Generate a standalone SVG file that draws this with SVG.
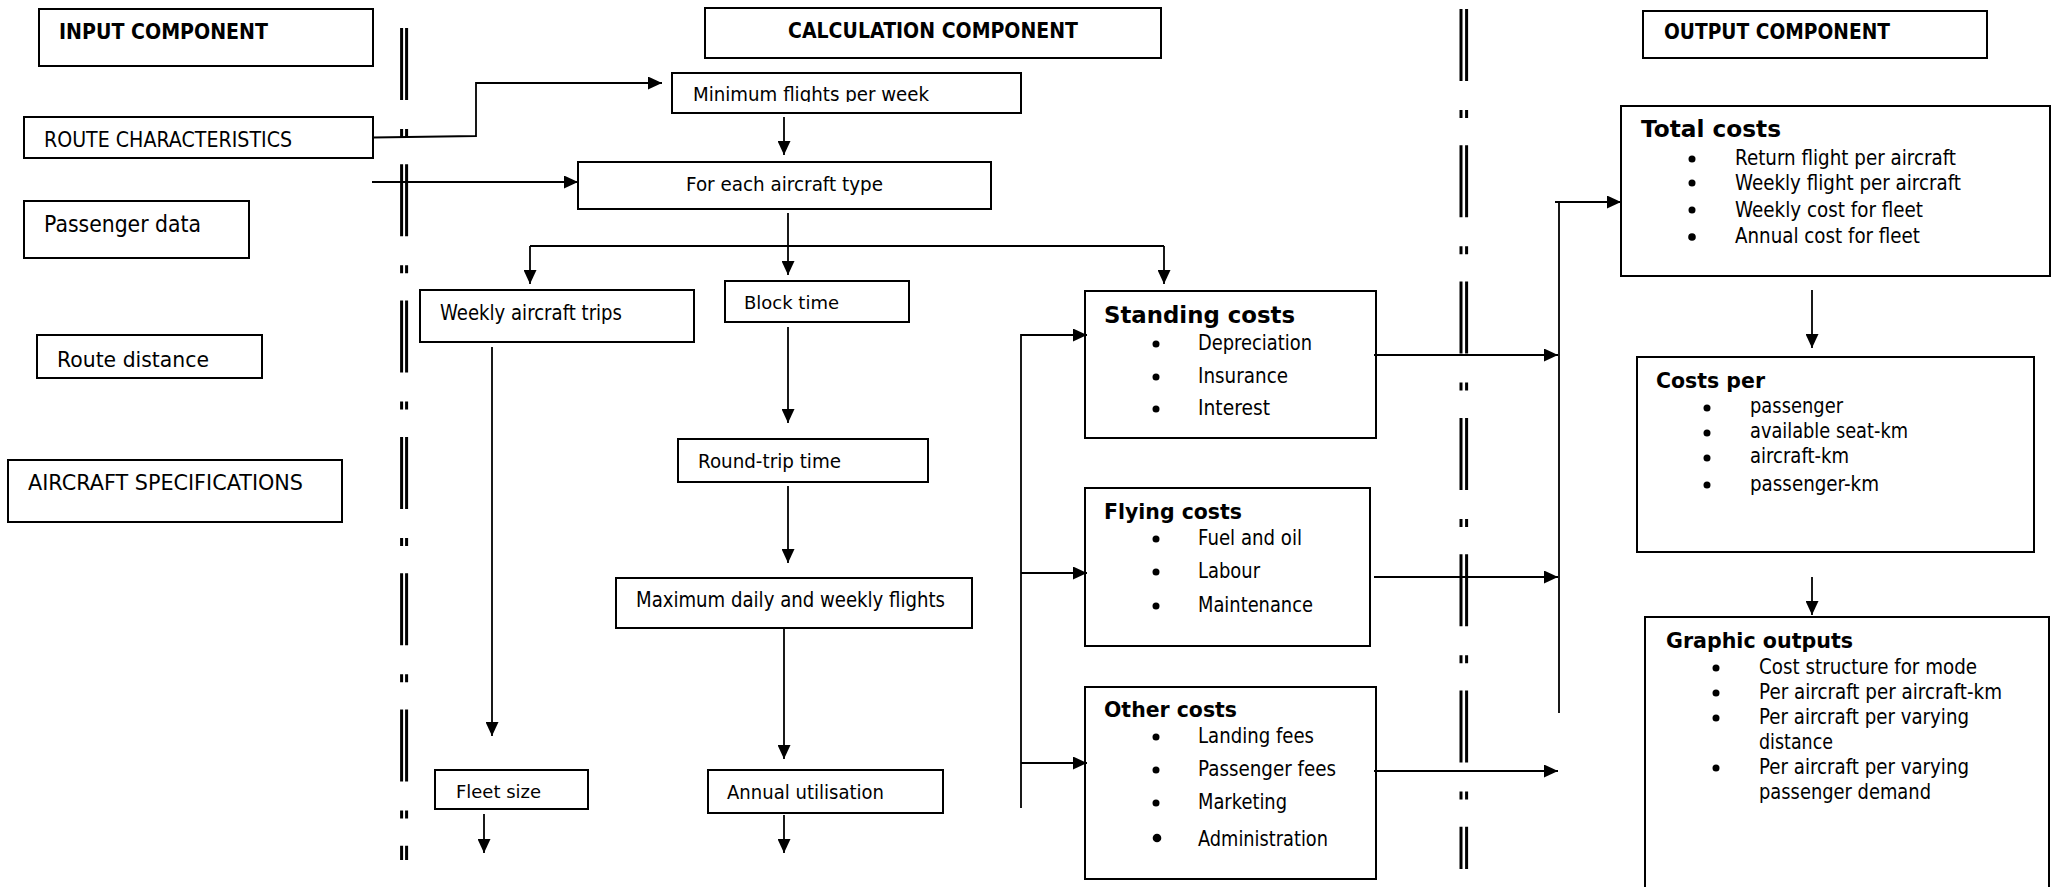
<svg xmlns="http://www.w3.org/2000/svg" width="2060" height="887" viewBox="0 0 2060 887">
<style>
.box{fill:none;stroke:#000;stroke-width:2}
.t{font-family:'DejaVu Sans',sans-serif;fill:#000}
.b{font-weight:bold}
.ln{fill:none;stroke:#000;stroke-width:1.8}
.arr{marker-end:url(#ah)}
.dv{stroke:#000;stroke-width:3;stroke-dasharray:72 29 8 27.3;fill:none}
</style>
<defs>
<marker id="ah" markerUnits="userSpaceOnUse" markerWidth="14" markerHeight="13" refX="14" refY="6.5" orient="auto">
<path d="M0,0 L14,6.5 L0,13 z" fill="#000"/>
</marker>
<clipPath id="cmin"><rect x="672" y="73" width="349" height="29"/></clipPath>
</defs>
<rect width="2060" height="887" fill="#fff"/>

<g id="dividers">
<line class="dv" x1="401.6" y1="28" x2="401.6" y2="860"/>
<line class="dv" x1="406.6" y1="28" x2="406.6" y2="860"/>
<line class="dv" x1="1461" y1="9" x2="1461" y2="869"/>
<line class="dv" x1="1466.6" y1="9" x2="1466.6" y2="869"/>
</g>

<g id="connectors">
<polyline class="ln arr" points="373,137.5 476,136 476,83 662,83"/>
<line class="ln arr" x1="372" y1="182" x2="578" y2="182"/>
<line class="ln arr" x1="784" y1="117" x2="784" y2="155"/>
<line class="ln arr" x1="788" y1="213" x2="788" y2="275"/>
<line class="ln" x1="530" y1="246" x2="1164" y2="246"/>
<line class="ln arr" x1="530" y1="246" x2="530" y2="284"/>
<line class="ln arr" x1="1164" y1="246" x2="1164" y2="284"/>
<line class="ln arr" x1="492" y1="347" x2="492" y2="736"/>
<line class="ln arr" x1="484" y1="814" x2="484" y2="853"/>
<line class="ln arr" x1="788" y1="327" x2="788" y2="423"/>
<line class="ln arr" x1="788" y1="486" x2="788" y2="563"/>
<line class="ln arr" x1="784" y1="628" x2="784" y2="759"/>
<line class="ln arr" x1="784" y1="815" x2="784" y2="853"/>
<line class="ln" x1="1021" y1="334" x2="1021" y2="808"/>
<line class="ln arr" x1="1021" y1="335" x2="1087" y2="335"/>
<line class="ln arr" x1="1021" y1="573" x2="1087" y2="573"/>
<line class="ln arr" x1="1021" y1="763" x2="1087" y2="763"/>
<line class="ln arr" x1="1374" y1="355" x2="1558" y2="355"/>
<line class="ln arr" x1="1374" y1="577" x2="1558" y2="577"/>
<line class="ln arr" x1="1374" y1="771" x2="1558" y2="771"/>
<line class="ln" x1="1559" y1="201" x2="1559" y2="713"/>
<line class="ln arr" x1="1555" y1="202" x2="1621" y2="202"/>
<line class="ln arr" x1="1812" y1="290" x2="1812" y2="348"/>
<line class="ln arr" x1="1812" y1="577" x2="1812" y2="615"/>
</g>

<g id="input-title">
<rect class="box" x="39" y="9" width="334" height="57"/>
<text class="t b" x="59" y="39" font-size="21" textLength="209" lengthAdjust="spacingAndGlyphs">INPUT COMPONENT</text>
</g>
<g id="route-characteristics">
<rect class="box" x="24" y="117" width="349" height="41"/>
<text class="t" x="44" y="147" font-size="20.5" textLength="248" lengthAdjust="spacingAndGlyphs">ROUTE CHARACTERISTICS</text>
</g>
<g id="passenger-data">
<rect class="box" x="24" y="201" width="225" height="57"/>
<text class="t" x="44" y="232" font-size="23" textLength="157" lengthAdjust="spacingAndGlyphs">Passenger data</text>
</g>
<g id="route-distance">
<rect class="box" x="37" y="335" width="225" height="43"/>
<text class="t" x="57" y="367" font-size="21.5" textLength="152" lengthAdjust="spacingAndGlyphs">Route distance</text>
</g>
<g id="aircraft-specifications">
<rect class="box" x="8" y="460" width="334" height="62"/>
<text class="t" x="28" y="490" font-size="20.5" textLength="275" lengthAdjust="spacingAndGlyphs">AIRCRAFT SPECIFICATIONS</text>
</g>

<g id="calc-title">
<rect class="box" x="705" y="8" width="456" height="50"/>
<text class="t b" x="788" y="38" font-size="21" textLength="290" lengthAdjust="spacingAndGlyphs">CALCULATION COMPONENT</text>
</g>
<g id="min-flights">
<rect class="box" x="672" y="73" width="349" height="40"/>
<text class="t" x="693" y="101" font-size="19" textLength="236" lengthAdjust="spacingAndGlyphs" clip-path="url(#cmin)">Minimum flights per week</text>
</g>
<g id="for-each">
<rect class="box" x="578" y="162" width="413" height="47"/>
<text class="t" x="686" y="191" font-size="19.5" textLength="197" lengthAdjust="spacingAndGlyphs">For each aircraft type</text>
</g>
<g id="weekly-trips">
<rect class="box" x="420" y="290" width="274" height="52"/>
<text class="t" x="440" y="320" font-size="20.5" textLength="182" lengthAdjust="spacingAndGlyphs">Weekly aircraft trips</text>
</g>
<g id="block-time">
<rect class="box" x="725" y="281" width="184" height="41"/>
<text class="t" x="744" y="309" font-size="18.5" textLength="95" lengthAdjust="spacingAndGlyphs">Block time</text>
</g>
<g id="round-trip">
<rect class="box" x="678" y="439" width="250" height="43"/>
<text class="t" x="698" y="468" font-size="19.5" textLength="143" lengthAdjust="spacingAndGlyphs">Round-trip time</text>
</g>
<g id="max-flights">
<rect class="box" x="616" y="578" width="356" height="50"/>
<text class="t" x="636" y="607" font-size="20.5" textLength="309" lengthAdjust="spacingAndGlyphs">Maximum daily and weekly flights</text>
</g>
<g id="fleet-size">
<rect class="box" x="435" y="770" width="153" height="39"/>
<text class="t" x="456" y="798" font-size="18.5" textLength="85" lengthAdjust="spacingAndGlyphs">Fleet size</text>
</g>
<g id="annual-utilisation">
<rect class="box" x="708" y="770" width="235" height="43"/>
<text class="t" x="727" y="799" font-size="19.5" textLength="157" lengthAdjust="spacingAndGlyphs">Annual utilisation</text>
</g>

<g id="standing-costs">
<rect class="box" x="1085" y="291" width="291" height="147"/>
<text class="t b" x="1104" y="323" font-size="23" textLength="191" lengthAdjust="spacingAndGlyphs">Standing costs</text>
<circle cx="1156" cy="344" r="3.5"/><circle cx="1156" cy="377" r="3.5"/><circle cx="1156" cy="409" r="3.5"/>
<text class="t" x="1198" y="350" font-size="20.5" textLength="114" lengthAdjust="spacingAndGlyphs">Depreciation</text>
<text class="t" x="1198" y="383" font-size="20.5" textLength="90" lengthAdjust="spacingAndGlyphs">Insurance</text>
<text class="t" x="1198" y="415" font-size="20.5" textLength="72" lengthAdjust="spacingAndGlyphs">Interest</text>
</g>
<g id="flying-costs">
<rect class="box" x="1085" y="488" width="285" height="158"/>
<text class="t b" x="1104" y="519" font-size="22" textLength="138" lengthAdjust="spacingAndGlyphs">Flying costs</text>
<circle cx="1156" cy="539" r="3.5"/><circle cx="1156" cy="572" r="3.5"/><circle cx="1156" cy="606" r="3.5"/>
<text class="t" x="1198" y="545" font-size="20.5" textLength="104" lengthAdjust="spacingAndGlyphs">Fuel and oil</text>
<text class="t" x="1198" y="578" font-size="20.5" textLength="62" lengthAdjust="spacingAndGlyphs">Labour</text>
<text class="t" x="1198" y="612" font-size="20.5" textLength="115" lengthAdjust="spacingAndGlyphs">Maintenance</text>
</g>
<g id="other-costs">
<rect class="box" x="1085" y="687" width="291" height="192"/>
<text class="t b" x="1104" y="717" font-size="21.5" textLength="133" lengthAdjust="spacingAndGlyphs">Other costs</text>
<circle cx="1156" cy="737" r="3.5"/><circle cx="1156" cy="770" r="3.5"/><circle cx="1156" cy="803" r="3.5"/><circle cx="1157" cy="838" r="4.3"/>
<text class="t" x="1198" y="743" font-size="20.5" textLength="116" lengthAdjust="spacingAndGlyphs">Landing fees</text>
<text class="t" x="1198" y="776" font-size="20.5" textLength="138" lengthAdjust="spacingAndGlyphs">Passenger fees</text>
<text class="t" x="1198" y="809" font-size="20.5" textLength="89" lengthAdjust="spacingAndGlyphs">Marketing</text>
<text class="t" x="1198" y="846" font-size="20.5" textLength="130" lengthAdjust="spacingAndGlyphs">Administration</text>
</g>

<g id="output-title">
<rect class="box" x="1643" y="11" width="344" height="47"/>
<text class="t b" x="1664" y="39" font-size="21" textLength="226" lengthAdjust="spacingAndGlyphs">OUTPUT COMPONENT</text>
</g>
<g id="total-costs">
<rect class="box" x="1621" y="106" width="429" height="170"/>
<text class="t b" x="1641" y="137" font-size="23" textLength="140" lengthAdjust="spacingAndGlyphs">Total costs</text>
<circle cx="1692" cy="159" r="3.5"/><circle cx="1692" cy="183" r="3.5"/><circle cx="1692" cy="210" r="3.5"/><circle cx="1692" cy="237" r="3.8"/>
<text class="t" x="1735" y="165" font-size="20.5" textLength="221" lengthAdjust="spacingAndGlyphs">Return flight per aircraft</text>
<text class="t" x="1735" y="190" font-size="20.5" textLength="226" lengthAdjust="spacingAndGlyphs">Weekly flight per aircraft</text>
<text class="t" x="1735" y="217" font-size="20.5" textLength="188" lengthAdjust="spacingAndGlyphs">Weekly cost for fleet</text>
<text class="t" x="1735" y="243" font-size="20.5" textLength="185" lengthAdjust="spacingAndGlyphs">Annual cost for fleet</text>
</g>
<g id="costs-per">
<rect class="box" x="1637" y="357" width="397" height="195"/>
<text class="t b" x="1656" y="388" font-size="21.5" textLength="109" lengthAdjust="spacingAndGlyphs">Costs per</text>
<circle cx="1707" cy="408" r="3.5"/><circle cx="1707" cy="433" r="3.5"/><circle cx="1707" cy="458" r="3.5"/><circle cx="1707" cy="485" r="3.5"/>
<text class="t" x="1750" y="413" font-size="20.5" textLength="93" lengthAdjust="spacingAndGlyphs">passenger</text>
<text class="t" x="1750" y="438" font-size="20.5" textLength="158" lengthAdjust="spacingAndGlyphs">available seat-km</text>
<text class="t" x="1750" y="463" font-size="20.5" textLength="99" lengthAdjust="spacingAndGlyphs">aircraft-km</text>
<text class="t" x="1750" y="491" font-size="20.5" textLength="129" lengthAdjust="spacingAndGlyphs">passenger-km</text>
</g>
<g id="graphic-outputs">
<path class="box" d="M1645,887 V617 H2049 V887"/>
<text class="t b" x="1666" y="648" font-size="20.5" textLength="187" lengthAdjust="spacingAndGlyphs">Graphic outputs</text>
<circle cx="1716" cy="668" r="3.5"/><circle cx="1716" cy="693" r="3.5"/><circle cx="1716" cy="718" r="3.5"/><circle cx="1716" cy="768" r="3.5"/>
<text class="t" x="1759" y="674" font-size="20.5" textLength="218" lengthAdjust="spacingAndGlyphs">Cost structure for mode</text>
<text class="t" x="1759" y="699" font-size="20.5" textLength="243" lengthAdjust="spacingAndGlyphs">Per aircraft per aircraft-km</text>
<text class="t" x="1759" y="724" font-size="20.5" textLength="210" lengthAdjust="spacingAndGlyphs">Per aircraft per varying</text>
<text class="t" x="1759" y="749" font-size="20.5" textLength="74" lengthAdjust="spacingAndGlyphs">distance</text>
<text class="t" x="1759" y="774" font-size="20.5" textLength="210" lengthAdjust="spacingAndGlyphs">Per aircraft per varying</text>
<text class="t" x="1759" y="799" font-size="20.5" textLength="172" lengthAdjust="spacingAndGlyphs">passenger demand</text>
</g>
</svg>
